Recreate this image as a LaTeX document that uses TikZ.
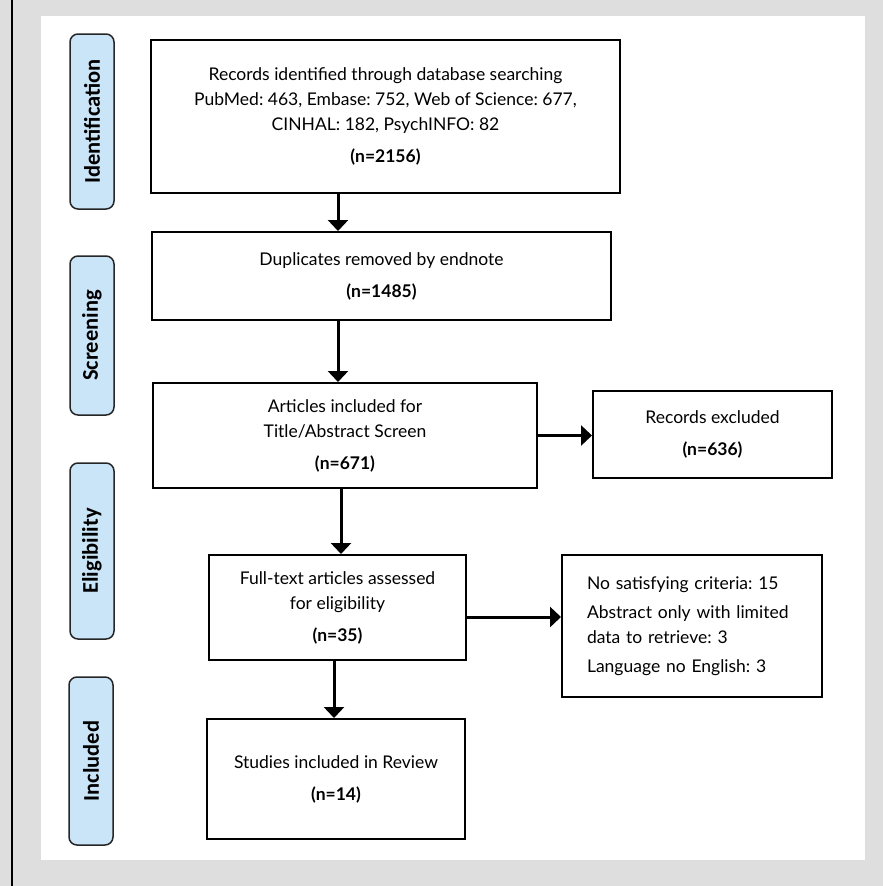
\documentclass[tikz,border=0pt]{standalone}
\usepackage{fontspec}
\setmainfont{Lato}
\newfontfamily\stagefont{Carlito}
\usetikzlibrary{arrows.meta,positioning}
\definecolor{panelgray}{HTML}{DEDEDE}
\definecolor{stageblue}{HTML}{CBE5F8}
\frenchspacing
\tikzstyle{prisma flow}=[
    x=1pt,y=-1pt,
    >={Triangle[width=20pt,length=11pt]},
    every node/.style={
        align=center,
        font=\fontsize{17.5}{25}\selectfont,
    },
    stage/.style={
        draw=black!85, fill=stageblue, line width=1.5pt,
        rounded corners=8pt, rotate=90, inner sep=0pt,
        minimum height=44pt,
        font=\stagefont\bfseries\fontsize{22.5}{26}\selectfont,
    },
    record/.style={
        draw, line width=2pt, inner sep=0pt,
    },
    flow/.style={->, line width=3pt},
]
\newcommand{\recordlabel}[2]{#1\\[7pt]\textbf{(n=#2)}}

\begin{document}
\begin{tikzpicture}[prisma flow]
        \useasboundingbox (0,0) rectangle (883,886);
        \fill[panelgray] (0,0) rectangle (883,886);
        \fill[white] (41,16) rectangle (865,860);
        \draw[line width=2.5pt] (12,0) -- (12,886);

        \node[stage, minimum width=175pt] (identification) at (92,121.5) {Identification};
        \node[stage, minimum width=159pt] (screening) at (92,335.5) {Screening};
        \node[stage, minimum width=176pt] (eligibility) at (92,551) {Eligibility};
        \node[stage, minimum width=168pt] (included) at (91,761) {Included};

        \node[record, minimum width=469pt, minimum height=153pt] (searched) at (385.5,116.5)
            {Records identified through database searching\\
             PubMed: 463, Embase: 752, Web of Science: 677,\\
             \recordlabel{CINHAL: 182, PsychINFO: 82}{2156}};
        \node[record, minimum width=459pt, minimum height=88pt] (deduped) at (381.5,276)
            {\recordlabel{Duplicates removed by endnote}{1485}};
        \node[record, minimum width=384pt, minimum height=105pt] (screened) at (345,435.5)
            {Articles included for\\ \recordlabel{Title/Abstract Screen}{671}};
        \node[record, minimum width=239pt, minimum height=87pt] (excluded) at (712.5,434.5)
            {\recordlabel{Records excluded}{636}};
        \node[record, minimum width=257pt, minimum height=105pt] (fulltext) at (337.5,607.5)
            {Full-text articles assessed\\ \recordlabel{for eligibility}{35}};
        \node[record, minimum width=260pt, minimum height=142pt, text width=210pt, align=left] (reasons) at (692,626)
            {No satisfying criteria: 15\\[4pt]
             Abstract only with limited\\
             data to retrieve: 3\\[4pt]
             Language no English: 3};
        \node[record, minimum width=258pt, minimum height=120pt] (studies) at (336,779)
            {\recordlabel{Studies included in Review}{14}};

        \coordinate (spine) at (338,0);
        \draw[flow] (searched.south -| spine) -- (deduped.north -| spine);
        \draw[flow] (deduped.south -| spine) -- (screened.north -| spine);
        \draw[flow] ([xshift=3pt]screened.south -| spine) -- ([xshift=3pt]fulltext.north -| spine);
        \draw[flow] ([xshift=-4pt]fulltext.south -| spine) -- ([xshift=-4pt]studies.north -| spine);
        \draw[flow] (screened.east) -- (screened.east -| excluded.west);
        \draw[flow] ([yshift=-9.5pt]fulltext.east) -- ([yshift=-9.5pt]fulltext.east -| reasons.west);
\end{tikzpicture}
\end{document}
